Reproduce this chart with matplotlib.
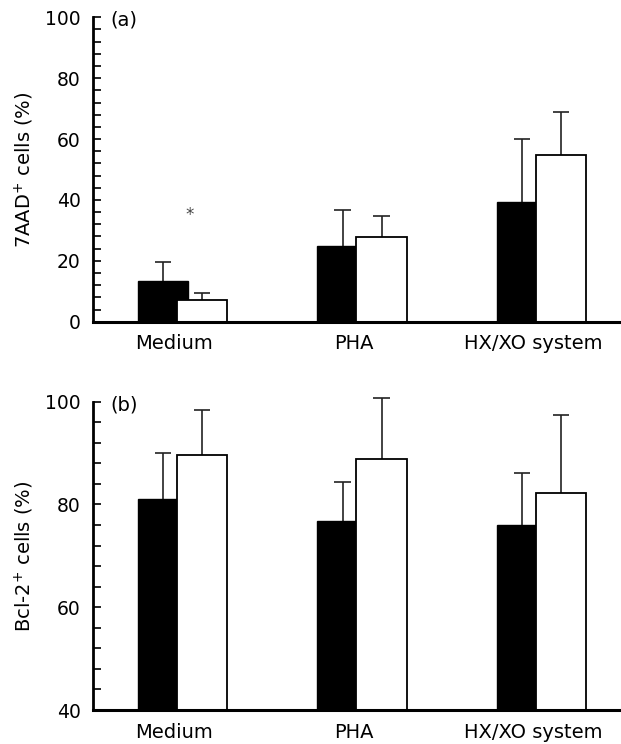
import matplotlib
matplotlib.use("Agg")
import matplotlib.pyplot as plt
from matplotlib.ticker import MultipleLocator
import numpy as np

plt.rcParams['font.family'] = ['DejaVu Sans']

categories = ["Medium", "PHA", "HX/XO system"]

# Panel (a): 7AAD+ cells (%)
a_black = [13.4, 25.0, 39.2]
a_black_err = [6.3, 11.7, 20.7]
a_white = [7.1, 27.7, 54.8]
a_white_err = [2.2, 7.1, 14.0]

# Panel (b): Bcl-2+ cells (%)
b_black = [81.1, 76.8, 76.1]
b_black_err = [8.9, 7.6, 10.1]
b_white = [89.6, 88.8, 82.2]
b_white_err = [8.8, 12.0, 15.2]

W, H = 621, 744
fig = plt.figure(figsize=(W / 100, H / 100), dpi=100)

def px_axes(left, top, right, bottom):
    return fig.add_axes([left / W, 1 - bottom / H, (right - left) / W, (bottom - top) / H])

x = np.arange(len(categories))
bw = 0.28
off_black = -0.061
off_white = 0.156
cap = 0.045

def err_up(ax, xs, means, errs):
    means = np.asarray(means)
    tops = means + np.asarray(errs)
    ax.vlines(xs, means, tops, colors='#222222', linewidth=1.2, zorder=1, clip_on=False)
    ax.hlines(tops, xs - cap, xs + cap, colors='#222222', linewidth=1.2, zorder=1,
              clip_on=False)

def draw(ax, black, berr, white, werr, ylim, major, minor, panel):
    err_up(ax, x + off_black, black, berr)
    err_up(ax, x + off_white, white, werr)
    ax.bar(x + off_black, black, width=bw, color='black', edgecolor='black',
           linewidth=1.0, zorder=2)
    ax.bar(x + off_white, white, width=bw, color='white', edgecolor='black',
           linewidth=1.3, zorder=3)
    ax.set_xlim(-0.451, 2.49)
    ax.set_ylim(*ylim)
    ax.yaxis.set_major_locator(MultipleLocator(major))
    ax.yaxis.set_minor_locator(MultipleLocator(minor))
    ax.spines['top'].set_visible(False)
    ax.spines['right'].set_visible(False)
    ax.spines['left'].set_linewidth(2.0)
    ax.spines['bottom'].set_linewidth(2.2)
    ax.spines['left'].set_zorder(5)
    ax.spines['bottom'].set_zorder(5)
    ax.tick_params(axis='y', which='both', direction='in', length=6, width=1.2,
                   labelsize=13.5, pad=9)
    ax.tick_params(axis='x', which='both', length=0, labelsize=14, pad=9)
    ax.set_xticks(x)
    ax.set_xticklabels(categories)
    ax.text(17 / 528, 1 - 3 / 305, panel, transform=ax.transAxes, ha='left',
            va='center', fontsize=14)

ax1 = px_axes(93, 17.3, 621, 321.7)
draw(ax1, a_black, a_black_err, a_white, a_white_err, (0, 100), 20, 4, '(a)')
ax1.text(0.087, 35.0, '*', ha='center', va='center', fontsize=12, color='#444444')

ax2 = px_axes(93, 401.7, 621, 710)
draw(ax2, b_black, b_black_err, b_white, b_white_err, (40, 100), 20, 4, '(b)')

fig.text(24 / W, 1 - 169.5 / H, r'7AAD$^{+}$ cells (%)', rotation=90,
         ha='center', va='center', fontsize=14)
fig.text(24 / W, 1 - 556 / H, r'Bcl-2$^{+}$ cells (%)', rotation=90,
         ha='center', va='center', fontsize=14)

fig.savefig('out.png', dpi=100)
